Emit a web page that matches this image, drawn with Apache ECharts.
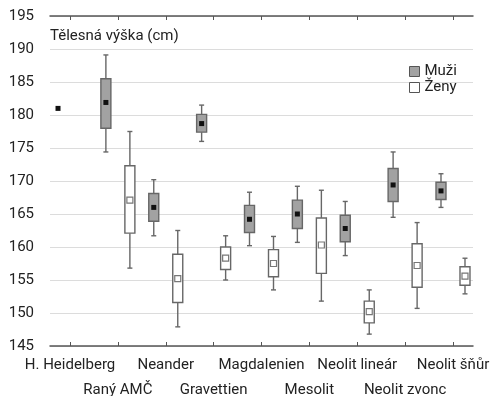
<!DOCTYPE html>
<html><head><meta charset="utf-8">
<script src="https://cdn.jsdelivr.net/npm/echarts@6/dist/echarts.min.js"></script>
<style>html,body{margin:0;padding:0;background:#fff}#c{width:494px;height:396px}</style>
</head><body><div id="c"></div>
<script>
const categories = ['H. Heidelberg','Raný AMČ','Neander','Gravettien','Magdalenien','Mesolit','Neolit lineár','Neolit zvonc','Neolit šňůr'];
const yTicks = [145,150,155,160,165,170,175,180,185,190,195];
const maleLow  = [null,174.4,161.7,176.0,160.2,160.7,158.7,164.5,166.0];
const maleQ1   = [null,178.0,163.9,177.4,162.2,162.8,160.8,166.9,167.2];
const maleMid  = [181.0,181.9,166.0,178.7,164.2,165.0,162.8,169.4,168.5];
const maleQ3   = [null,185.5,168.1,180.1,166.3,167.1,164.8,171.9,169.8];
const maleHigh = [null,189.1,170.2,181.5,168.3,169.2,166.9,174.4,171.1];
const femaleLow  = [null,156.8,147.9,155.0,153.5,151.8,146.8,150.7,152.9];
const femaleQ1   = [null,162.1,151.6,156.6,155.5,156.0,148.5,153.9,154.2];
const femaleMid  = [null,167.1,155.2,158.3,157.5,160.3,150.2,157.2,155.6];
const femaleQ3   = [null,172.3,158.9,160.0,159.6,164.4,151.8,160.5,157.0];
const femaleHigh = [null,177.5,162.5,161.7,161.6,168.6,153.5,163.7,158.3];

const FONT = 'Roboto';
const catIdx = categories.map((c,i)=>i);
const evenIdx = catIdx.filter(i=>i%2===0);
const oddIdx = catIdx.filter(i=>i%2===1);
function build(lo,q1,mid,q3,hi){
  return catIdx.map(i => [i, lo[i], q1[i], mid[i], q3[i], hi[i]]).filter(d => d[3] != null);
}
function makeRender(offset, fill, markFill, markStroke, markSize){
  return function(params, api){
    const i = api.value(0);
    const lo = api.value(1), q1 = api.value(2), mid = api.value(3), q3 = api.value(4), hi = api.value(5);
    const cx = api.coord([i, mid])[0] + offset;
    const children = [];
    const stroke = '#676767';
    const bw = 10, cap = 5;
    if (!isNaN(lo) && lo != null) {
      const yLo = api.coord([i, lo])[1], yQ1 = api.coord([i, q1])[1];
      const yQ3 = api.coord([i, q3])[1], yHi = api.coord([i, hi])[1];
      children.push({type:'line', shape:{x1:cx,y1:yHi,x2:cx,y2:yQ3}, style:{stroke, lineWidth:1.4}});
      children.push({type:'line', shape:{x1:cx,y1:yQ1,x2:cx,y2:yLo}, style:{stroke, lineWidth:1.4}});
      children.push({type:'line', shape:{x1:cx-cap/2,y1:yHi,x2:cx+cap/2,y2:yHi}, style:{stroke, lineWidth:1.4}});
      children.push({type:'line', shape:{x1:cx-cap/2,y1:yLo,x2:cx+cap/2,y2:yLo}, style:{stroke, lineWidth:1.4}});
      children.push({type:'rect', shape:{x:cx-bw/2, y:yQ3, width:bw, height:yQ1-yQ3}, style:{fill, stroke, lineWidth:1.4}});
    }
    const yM = api.coord([i, mid])[1];
    children.push({type:'rect', shape:{x:cx-markSize/2, y:yM-markSize/2, width:markSize, height:markSize},
      style:{fill:markFill, stroke:markStroke, lineWidth: markStroke ? 1.2 : 0}});
    return {type:'group', children};
  };
}

const chart = echarts.init(document.getElementById('c'), null, {renderer:'canvas'});
const xMin = -0.418, xMax = 8.418;
const labelBase = {showMinLabel:true, showMaxLabel:true, hideOverlap:false,
  fontFamily:FONT, fontSize:15, color:'#222',
  formatter:(v)=>categories[Math.round(v)]};
chart.setOption({
  animation:false,
  textStyle:{fontFamily:FONT},
  grid:{left:50, right:21, top:16, bottom:50, containLabel:false, outerBoundsMode:'none'},
  title:{text:'Tělesná výška (cm)', left:50, top:29, padding:0, textStyle:{fontFamily:FONT, fontSize:15, fontWeight:'normal', color:'#222'}},
  legend:{
    orient:'vertical', left:409, top:64, padding:0, itemWidth:10, itemHeight:10, itemGap:1,
    textStyle:{fontFamily:FONT, fontSize:15, color:'#222'},
    data:[
      {name:'Muži', icon:'rect', itemStyle:{color:'#a2a2a2', borderColor:'#555', borderWidth:1}},
      {name:'Ženy', icon:'rect', itemStyle:{color:'#fff', borderColor:'#555', borderWidth:1}}
    ]
  },
  xAxis:[{
    type:'value', min:xMin, max:xMax, position:'bottom',
    axisLine:{show:true, lineStyle:{color:'#555', width:1.5}},
    axisTick:{show:true, inside:true, length:4, customValues:catIdx, lineStyle:{color:'#555'}},
    splitLine:{show:false},
    axisLabel:Object.assign({customValues:evenIdx, margin:12}, labelBase)
  },{
    type:'value', min:xMin, max:xMax, position:'top',
    axisLine:{show:true, lineStyle:{color:'#555', width:1.5}},
    axisTick:{show:true, inside:true, length:4, customValues:catIdx, lineStyle:{color:'#555'}},
    splitLine:{show:false},
    axisLabel:{show:false}
  },{
    type:'value', min:xMin, max:xMax, position:'bottom', offset:0,
    axisLine:{show:false}, axisTick:{show:false}, splitLine:{show:false},
    axisLabel:Object.assign({customValues:oddIdx, margin:37}, labelBase)
  }],
  yAxis:{
    type:'value', min:yTicks[0], max:yTicks[yTicks.length-1], interval:5,
    axisLine:{show:false}, axisTick:{show:false},
    splitLine:{show:true, lineStyle:{color:'#dcdcdc', width:1}},
    axisLabel:{fontFamily:FONT, fontSize:15, color:'#222', margin:16}
  },
  series:[
    {name:'Muži', type:'custom', xAxisIndex:0, itemStyle:{color:'#a2a2a2'},
     renderItem: makeRender(-12, '#a2a2a2', '#111', null, 5),
     encode:{x:0, y:[1,2,3,4,5]},
     data: build(maleLow, maleQ1, maleMid, maleQ3, maleHigh)},
    {name:'Ženy', type:'custom', xAxisIndex:0, itemStyle:{color:'#fff'},
     renderItem: makeRender(12, '#fff', '#fff', '#777', 6),
     encode:{x:0, y:[1,2,3,4,5]},
     data: build(femaleLow, femaleQ1, femaleMid, femaleQ3, femaleHigh)}
  ]
});
</script></body></html>
